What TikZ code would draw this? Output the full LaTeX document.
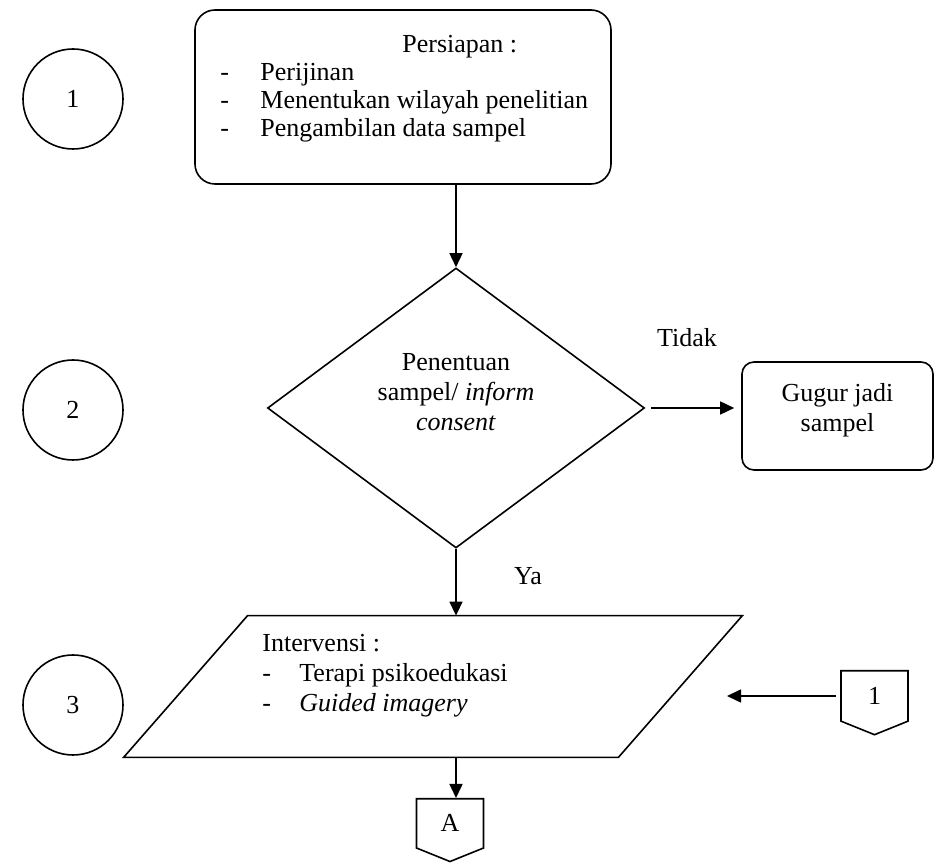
\documentclass[tikz,border=0pt]{standalone}
\usepackage{fontspec}
\setmainfont{Liberation Serif}
\usetikzlibrary{shapes.geometric,shapes.symbols,arrows.meta}

\tikzset{
  txt/.style={inner sep=0, font=\fontsize{13}{15}\selectfont},
  rbox/.style={draw, line width=0.8pt, rounded corners=10pt},
  numcirc/.style={circle, draw, line width=0.8pt, minimum size=50pt, inner sep=0, font=\fontsize{13}{15}\selectfont},
  offpage/.style={signal, signal to=south, signal pointer angle=136, draw, line width=0.8pt,
    minimum width=33.5pt, minimum height=26.5pt, inner sep=0, font=\fontsize{13}{15}\selectfont},
  arr/.style={-{Triangle[length=7pt,width=6.5pt]}, line width=0.8pt}
}
\newcommand{\dash}{\makebox[18.5pt][l]{-}}

\begin{document}
\begin{tikzpicture}[x=0.5pt, y=-0.5pt]
  \useasboundingbox (0,0) rectangle (934,865);

  % step numbers
  \node[numcirc] (one) at (73,99) {1};
  \node[numcirc] (two) at (73,410) {2};
  \node[numcirc] (three) at (73,705) {3};

  % persiapan
  \node[rbox, minimum width=208pt, minimum height=87pt] (prep) at (403,97) {};
  \node[txt, align=left, anchor=north west, font=\fontsize{13}{14}\selectfont] (preptext) at (220,35)
        {\hspace*{91pt}Persiapan :\\
        \makebox[20pt][l]{-}Perijinan\\
        \makebox[20pt][l]{-}Menentukan wilayah penelitian\\
        \makebox[20pt][l]{-}Pengambilan data sampel};

  % penentuan sampel
  \node[diamond, draw, line width=0.8pt, minimum width=188.5pt, minimum height=140pt, inner sep=0] (dec) at (456,408) {};
  \node[txt, align=center] (dectext) at (456,392) {Penentuan\\sampel/ \textit{inform}\\\textit{consent}};
  \node[txt] (tidak) at (687,338) {Tidak};
  \node[rbox, rounded corners=6pt, minimum width=95.5pt, minimum height=54pt] (gugur) at (837.5,416) {};
  \node[txt, align=center] (gugurtext) at (837.5,410) {Gugur jadi\\sampel};
  \node[txt] (ya) at (528,576) {Ya};

  % intervensi (parallelogram drawn round an empty node)
  \node[minimum width=247pt, minimum height=70.5pt, inner sep=0] (interv) at (433,686.5) {};
  \draw[line width=0.8pt] ([xshift=-31pt]interv.south west) -- ([xshift=31pt]interv.north west)
        -- ([xshift=31pt]interv.north east) -- ([xshift=-31pt]interv.south east) -- cycle;
  \node[txt, align=left, anchor=north west] (intervtext) at (262,634)
        {Intervensi :\\
        \dash Terapi psikoedukasi\\
        \dash \textit{Guided imagery}};

  % connectors
  \node[offpage, anchor=north] (conA) at (450,798) {A};
  \node[offpage, anchor=north] (conone) at (874.5,670) {1};
  \coordinate (oneend) at (727,696);

  \draw[arr] (dec.north |- prep.south) -- (dec.north);
  \draw[arr, shorten <=3pt, shorten >=3.5pt] (dec.east) -- (dec.east -| gugur.west);
  \draw[arr] (dec.south) -- (dec.south |- interv.north);
  \draw[arr] (dec.south |- interv.south) -- (dec.south |- conA.north);
  \draw[arr] (oneend -| conone.west) ++(-4,0) -- (oneend);

\end{tikzpicture}
\end{document}
